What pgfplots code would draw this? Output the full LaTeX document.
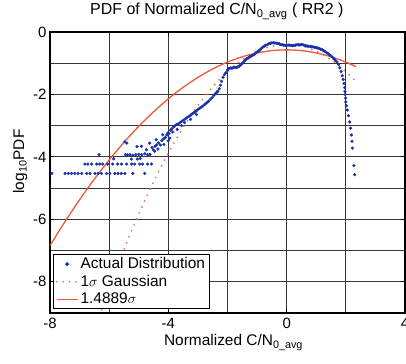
\documentclass[border=0pt]{standalone}
\usepackage{pgfplots}
\pgfplotsset{compat=1.18}
\usepackage{fontspec}
\setmainfont{Liberation Sans}
\definecolor{dotblue}{RGB}{25,50,170}
\definecolor{gaussred}{RGB}{240,88,58}
\definecolor{gaussorange}{RGB}{230,120,100}
\definecolor{gridgray}{RGB}{55,55,55}
\pgfplotsset{
  linelegend/.style={legend image code/.code={\draw[##1] (0bp,0bp) -- (21bp,0bp);}},
  dotlegend/.style={legend image code/.code={\draw[##1, mark repeat=2, mark phase=2] plot coordinates {(0bp,0bp) (10.5bp,0bp) (21bp,0bp)};}},
}
\begin{document}
\begin{tikzpicture}
\begin{axis}[
  scale only axis, width=355bp, height=281bp,
  xmin=-8, xmax=4, ymin=-9, ymax=0,
  xtick={-8,-4,0,4}, minor xtick={-6,-2,2},
  ytick={-8,-6,-4,-2,0}, minor ytick={-9,-7,-5,-3,-1},
  grid=both,
  major grid style={draw=gridgray, line width=1bp},
  minor grid style={draw=gridgray, line width=1bp},
  axis line style={black, line width=1.3bp},
  tick align=inside, major tick length=4bp, minor tick length=0bp,
  tick style={black, line width=0.8bp},
  /pgf/number format/assume math mode=true,
  ticklabel style={font=\fontsize{15}{17}\selectfont},
  xticklabel style={yshift=-2bp},
  title={PDF of Normalized C/N\textsubscript{0\_avg} ( RR2 )},
  title style={font=\fontsize{16}{18}\selectfont, at={(axis description cs:0.470,1.0402)}, anchor=base},
  xlabel={Normalized C/N\textsubscript{0\_avg}},
  xlabel style={font=\fontsize{15.5}{17}\selectfont, at={(axis description cs:0.517,-0.1174)}, anchor=base},
  ylabel={log\textsubscript{10}PDF},
  ylabel style={font=\fontsize{15.5}{17}\selectfont, at={(axis description cs:-0.0732,0.539)}, anchor=base},
  legend style={at={(axis description cs:0.0085,0.013)}, anchor=south west,
    draw=black, line width=1bp, fill=white, font=\fontsize{15.5}{17}\selectfont,
    row sep=1bp, inner xsep=2bp, inner ysep=1.5bp},
  legend cell align=left,
]
\addplot[only marks, mark=*, mark size=1.4pt, dotblue, mark options={draw=dotblue, fill=dotblue}, dotlegend]
coordinates {
(-7.94,-4.53) (-7.49,-4.53) (-7.38,-4.53) (-7.27,-4.53) (-7.16,-4.53) (-7.05,-4.53) (-6.93,-4.53)
(-6.76,-4.53) (-6.65,-4.53) (-6.48,-4.53) (-6.37,-4.53) (-6.26,-4.53) (-6.09,-4.53) (-5.98,-4.53)
(-5.81,-4.53) (-5.70,-4.53) (-5.59,-4.53) (-5.47,-4.53) (-5.20,-4.53) (-4.80,-4.53)
(-6.82,-4.23) (-6.72,-4.23) (-6.59,-4.23) (-6.42,-4.23) (-6.32,-4.23) (-6.22,-4.23) (-6.05,-4.23)
(-5.88,-4.23) (-5.71,-4.23) (-5.58,-4.23) (-5.41,-4.23) (-5.24,-4.23) (-5.14,-4.23) (-4.97,-4.23)
(-4.87,-4.23) (-4.70,-4.23) (-4.57,-4.23)
(-6.34,-3.93) (-5.85,-4.06) (-5.25,-4.07) (-5.05,-4.07) (-4.95,-4.05)
(-5.45,-3.93) (-5.38,-3.93) (-5.30,-3.93) (-5.20,-3.95) (-5.10,-3.93) (-5.00,-3.92) (-4.90,-3.93)
(-4.80,-3.90) (-4.70,-3.93) (-4.62,-3.92)
(-5.47,-3.52) (-5.40,-3.56) (-5.06,-3.67) (-4.91,-3.66) (-4.74,-3.77) (-4.63,-3.56) (-4.55,-3.70)
(-4.46,-3.82) (-4.41,-3.45) (-4.19,-3.29) (-4.02,-3.24)
(-4.50,-3.78) (-4.45,-3.66) (-4.40,-3.62) (-4.33,-3.55) (-4.27,-3.62) (-4.22,-3.48) (-4.16,-3.42)
(-4.10,-3.38) (-4.05,-3.30) (-3.98,-3.25) (-3.93,-3.15) (-3.88,-3.10) (-3.82,-3.04) (-3.77,-3.00)
(-3.72,-2.96) (-3.66,-2.94) (-3.60,-2.90) (-3.55,-2.86) (-3.48,-2.82) (-3.42,-2.78) (-3.36,-2.74)
(-3.30,-2.70) (-3.24,-2.66) (-3.18,-2.61) (-3.12,-2.57) (-3.06,-2.53) (-3.00,-2.48) (-2.94,-2.44)
(-2.88,-2.40) (-2.82,-2.36) (-2.76,-2.31) (-2.70,-2.27) (-2.64,-2.22) (-2.58,-2.16) (-2.52,-2.10)
(-2.46,-2.03) (-2.40,-1.97) (-2.35,-1.92)
(-3.70,-3.12) (-3.55,-3.00) (-3.95,-3.40) (-4.15,-3.60) (-3.85,-3.20) (-3.45,-2.90) (-4.35,-3.75)
(-4.00,-3.48) (-3.25,-2.80) (-3.05,-2.64)
(-2.33,-1.90) (-2.28,-1.82) (-2.24,-1.70) (-2.20,-1.58) (-2.15,-1.45) (-2.10,-1.36) (-2.05,-1.30)
(-2.00,-1.22) (-1.95,-1.17) (-1.90,-1.15) (-1.85,-1.16) (-1.80,-1.14) (-1.75,-1.13) (-1.70,-1.14)
(-1.65,-1.12) (-1.60,-1.09) (-1.55,-1.05) (-1.50,-1.00) (-1.45,-0.95) (-1.40,-0.90) (-1.35,-0.86)
(-1.30,-0.83) (-1.25,-0.80) (-1.20,-0.77) (-1.15,-0.75) (-1.10,-0.72) (-1.05,-0.68) (-1.00,-0.64)
(-0.95,-0.61) (-0.90,-0.57) (-0.85,-0.52) (-0.80,-0.48) (-0.75,-0.45) (-0.70,-0.42) (-0.65,-0.40)
(-0.60,-0.38) (-0.55,-0.36) (-0.50,-0.35) (-0.45,-0.34) (-0.40,-0.35) (-0.35,-0.36) (-0.30,-0.37)
(-0.25,-0.38) (-0.20,-0.40) (-0.15,-0.41) (-0.10,-0.42) (-0.05,-0.43) (0.00,-0.43) (0.05,-0.42)
(0.10,-0.42) (0.15,-0.43) (0.20,-0.44) (0.25,-0.43) (0.30,-0.42) (0.35,-0.41) (0.40,-0.41)
(0.45,-0.41) (0.50,-0.40) (0.55,-0.41) (0.60,-0.43) (0.65,-0.44) (0.70,-0.45) (0.75,-0.46)
(0.80,-0.46) (0.85,-0.47) (0.90,-0.48) (0.95,-0.49) (1.00,-0.50) (1.05,-0.51) (1.10,-0.53)
(1.15,-0.55) (1.20,-0.57) (1.25,-0.60) (1.30,-0.63) (1.35,-0.66) (1.40,-0.69) (1.45,-0.73)
(1.50,-0.77) (1.55,-0.81) (1.60,-0.86) (1.65,-0.91) (1.70,-0.96) (1.75,-1.04) (1.80,-1.15)
(1.84,-1.27) (1.88,-1.40) (1.91,-1.52) (1.94,-1.65) (1.96,-1.78) (1.97,-1.90) (1.98,-2.00)
(1.99,-2.12) (2.00,-2.24) (2.02,-2.36) (2.05,-2.50) (2.09,-2.68) (2.13,-2.88) (2.16,-3.08)
(2.19,-3.30) (2.21,-3.50) (2.22,-3.72) (2.27,-4.28) (2.30,-4.57)
};
\addlegendentry{Actual Distribution\hspace{12bp}}
\addplot[gaussorange, line width=2.1bp, line cap=round, dash pattern=on 0bp off 6.5bp, smooth, linelegend]
coordinates {
(-6.4,-9.29) (-6,-8.217) (-5.5,-6.968) (-5,-5.828) (-4.5,-4.796) (-4,-3.874) (-3.5,-3.059)
(-3,-2.353) (-2.5,-1.756) (-2,-1.268) (-1.5,-0.887) (-1,-0.616) (-0.5,-0.453) (0,-0.399)
(0.5,-0.453) (1,-0.616) (1.5,-0.887) (2,-1.268) (2.35,-1.598)
};
\addlegendentry{1$\sigma$ Gaussian}
\addplot[gaussred, line width=1.3bp, smooth, linelegend]
coordinates {
(-8,-6.841) (-7.5,-6.082) (-7,-5.372) (-6.5,-4.711) (-6,-4.098) (-5.5,-3.535) (-5,-3.021)
(-4.5,-2.556) (-4,-2.139) (-3.5,-1.772) (-3,-1.454) (-2.5,-1.184) (-2,-0.964) (-1.5,-0.792)
(-1,-0.670) (-0.5,-0.596) (0,-0.572) (0.5,-0.596) (1,-0.670) (1.5,-0.792) (2,-0.964) (2.35,-1.113)
};
\addlegendentry{1.4889$\sigma$}
\end{axis}
\pgfresetboundingbox
\path[use as bounding box] (-50bp,-51bp) rectangle (356bp,313bp);
\end{tikzpicture}
\end{document}
